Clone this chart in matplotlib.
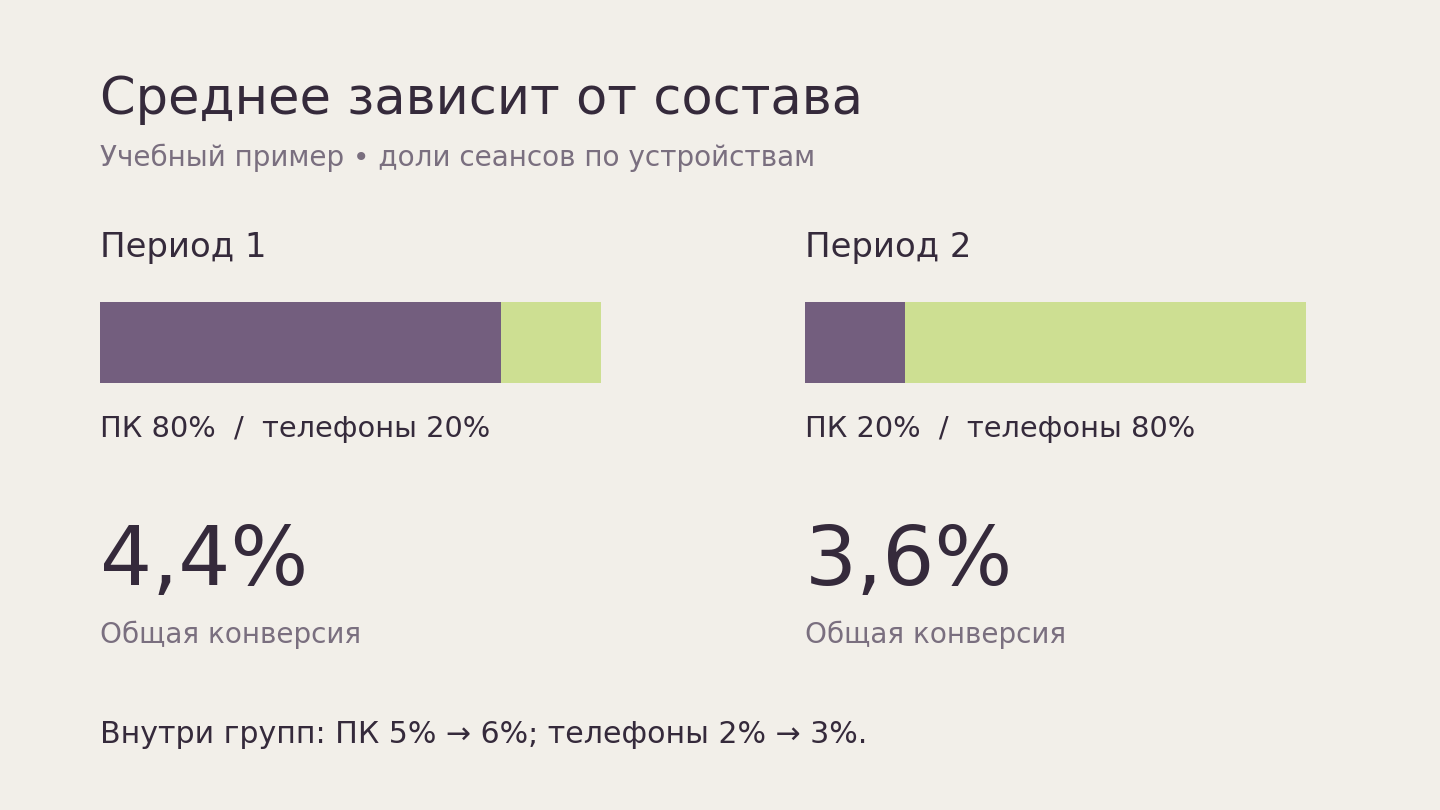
import matplotlib
matplotlib.use("Agg")
from matplotlib import pyplot as plt

# data
periods = ["Период 1", "Период 2"]
pc_share = [80, 20]
phone_share = [20, 80]
share_labels = ["ПК 80%  /  телефоны 20%", "ПК 20%  /  телефоны 80%"]
overall = ["4,4%", "3,6%"]
footer = "Внутри групп: ПК 5% → 6%; телефоны 2% → 3%."

bg = "#F2EFE9"
dark = "#352A3B"
gray = "#7A6F7F"
purple = "#735E7E"
green = "#CDDF92"

W, H = 1440, 810
fig = plt.figure(figsize=(14.4, 8.1), dpi=100, facecolor=bg)
plt.rcParams['font.family'] = ['DejaVu Sans']


def ty(px):
    return 1 - px / H


fig.text(100 / W, ty(114), "Среднее зависит от состава", fontsize=36.7,
         color=dark, va="baseline")
fig.text(100 / W, ty(166), "Учебный пример • доли сеансов по устройствам",
         fontsize=20.1, color=gray, va="baseline")

lefts = [100, 805]
for i in range(2):
    x0 = lefts[i]
    fig.text(x0 / W, ty(257), periods[i], fontsize=24.4, color=dark, va="baseline")
    ax = fig.add_axes([x0 / W, ty(383), 501 / W, 81 / H])
    ax.barh(0, pc_share[i], left=0, height=1, color=purple)
    ax.barh(0, phone_share[i], left=pc_share[i], height=1, color=green)
    ax.set_xlim(0, 100)
    ax.set_ylim(-0.5, 0.5)
    ax.axis("off")
    fig.text(x0 / W, ty(437), share_labels[i], fontsize=20.8, color=dark, va="baseline")
    fig.text(x0 / W, ty(585), overall[i], fontsize=59, color=dark, va="baseline")
    fig.text(x0 / W, ty(643), "Общая конверсия", fontsize=20.1, color=gray, va="baseline")

fig.text(100 / W, ty(743), footer, fontsize=21.6, color=dark, va="baseline")

fig.savefig("out.png", dpi=100, facecolor=bg)
